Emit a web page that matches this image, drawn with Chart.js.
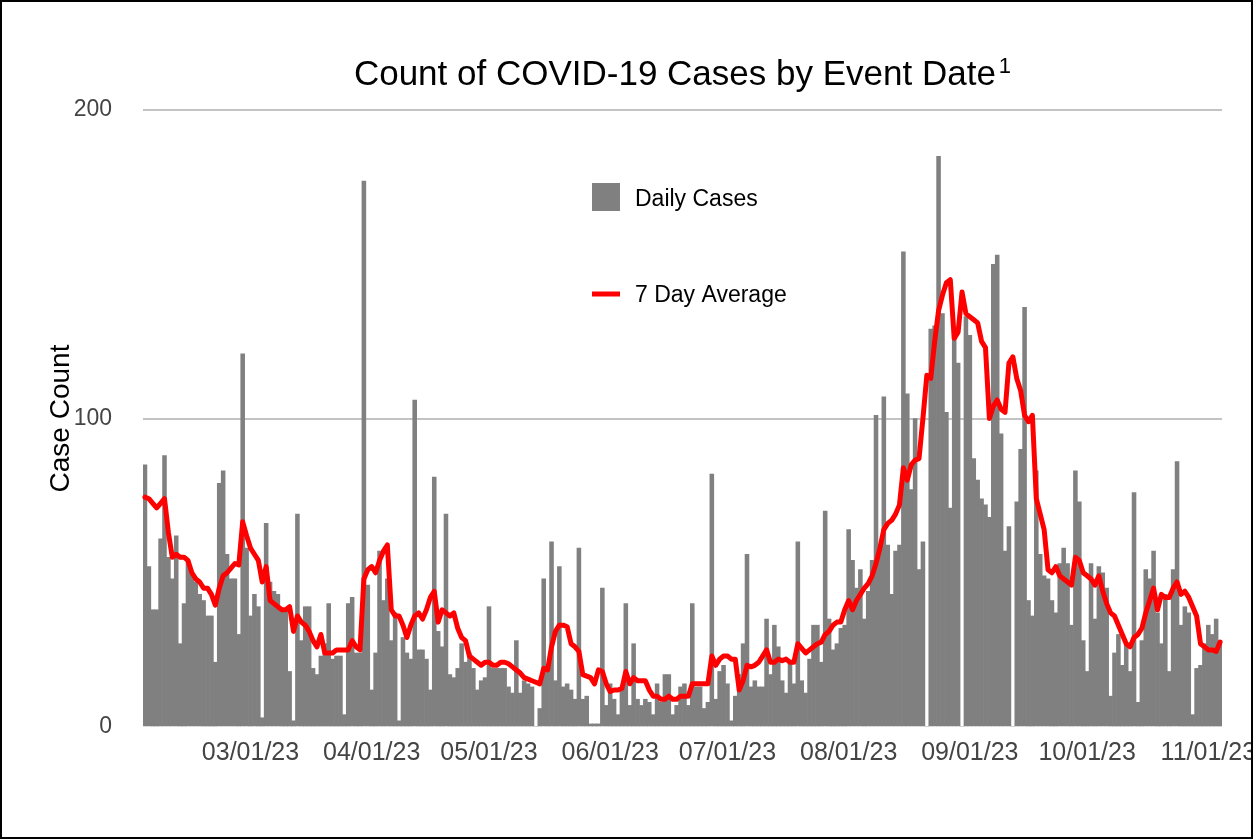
<!DOCTYPE html>
<html>
<head>
<meta charset="utf-8">
<title>Count of COVID-19 Cases by Event Date</title>
<script src="https://cdn.jsdelivr.net/npm/chart.js@4.4.0/dist/chart.umd.min.js"></script>
<style>
  html, body { margin: 0; padding: 0; background: #fff; }
  #wrap { position: relative; width: 1253px; height: 839px; }
  #frame { position: absolute; left: 0; top: 0; width: 1253px; height: 839px;
           box-sizing: border-box; border: 2px solid #000; pointer-events: none; }
</style>
</head>
<body>
<div id="wrap">
  <canvas id="myChart" width="1253" height="839"></canvas>
  <div id="frame"></div>
</div>
<script>
const titleText = 'Count of COVID-19 Cases by Event Date';
const startDate = '2023-02-02';
const tickLabels = ['03/01/23', '04/01/23', '05/01/23', '06/01/23', '07/01/23',
                    '08/01/23', '09/01/23', '10/01/23', '11/01/23'];

// daily counts (02/02/23 .. 11/04/23)
const dailyCases = [
  85, 52, 38, 38, 61, 88, 55, 48, 62, 27, 40, 54, 50, 47, 43, 41, 36, 36, 21, 79,
  83, 56, 48, 48, 30, 121, 58, 36, 43, 39, 3, 66, 47, 44, 43, 38, 38, 18, 2, 69,
  28, 39, 39, 19, 17, 23, 27, 40, 22, 23, 23, 4, 40, 42, 24, 24, 177, 46, 12, 24,
  57, 41, 48, 28, 37, 2, 29, 24, 22, 106, 25, 25, 22, 12, 81, 31, 26, 69, 17, 16,
  19, 27, 21, 24, 19, 12, 15, 16, 39, 19, 19, 19, 19, 13, 11, 28, 11, 15, 14, 13,
  0, 6, 48, 20, 60, 15, 52, 13, 14, 12, 9, 58, 9, 10, 1, 1, 1, 45, 7, 14,
  9, 4, 12, 40, 7, 27, 9, 7, 9, 8, 4, 14, 8, 17, 17, 4, 7, 13, 14, 7,
  40, 13, 13, 6, 8, 82, 9, 18, 20, 14, 2, 10, 17, 27, 56, 13, 15, 13, 13, 35,
  17, 33, 26, 15, 11, 21, 14, 60, 15, 11, 22, 33, 33, 21, 70, 35, 25, 27, 32, 33,
  64, 54, 45, 51, 35, 44, 54, 101, 59, 107, 59, 43, 57, 59, 154, 108, 77, 100, 51, 60,
  0, 129, 130, 185, 134, 102, 71, 126, 118, 0, 133, 127, 87, 80, 74, 72, 68, 150, 153, 95,
  57, 65, 0, 73, 90, 136, 41, 36, 83, 56, 49, 48, 41, 37, 53, 58, 53, 33, 83, 73,
  28, 18, 53, 35, 52, 50, 45, 10, 24, 30, 20, 27, 18, 76, 8, 28, 51, 48, 57, 37,
  27, 43, 18, 51, 86, 33, 39, 37, 4, 19, 20, 27, 33, 30, 35, 28
];

// red line
const sevenDayAvg = [
  74.5, 74, 72.5, 71, 72.5, 74, 63, 55, 56, 55, 55, 54, 50, 48, 47, 45, 45, 43, 39.5, 45,
  49, 50, 51.5, 53, 52.5, 66.5, 62, 58, 56, 54, 47, 52, 41, 40, 39, 38, 38, 39, 31, 36,
  34, 33, 31, 28, 26, 30, 24, 24, 24, 25, 25, 25, 25, 28, 26, 25, 48, 51, 52, 50,
  54, 57, 59, 38, 36, 36, 33, 29, 33, 36, 37, 35, 38, 42, 44, 34, 38, 37, 36, 37,
  32, 29, 28, 23, 22, 21, 20, 21, 21, 20, 20, 21, 21, 20.5, 19.5, 18.5, 17.5, 16, 15.5, 15,
  14.5, 14, 19, 18.5, 26, 31, 33, 33, 32.5, 27, 26, 24.5, 17, 16.5, 16, 14, 18.5, 18, 14, 11.5,
  12, 12, 12.5, 18, 14, 16, 15, 15, 15, 12, 10, 10, 9, 9, 10, 9, 9, 10, 10, 10,
  14, 14, 14, 14, 14, 23, 20, 22, 23, 23, 22, 22, 12, 15, 20, 19.5, 20, 21, 23, 25,
  21, 21, 22, 21.5, 22, 21, 21, 27, 25.5, 24, 25, 26, 27, 27.5, 30, 31, 33, 34, 34, 38,
  41, 38, 41, 43, 45, 46.5, 49, 53, 58, 64, 66, 67, 69, 72, 84, 80, 85, 86.5, 87, 100,
  114, 113, 125, 135, 140, 144, 145, 126, 128, 141, 134, 133, 132, 131, 125, 123, 100, 104, 106, 103,
  102, 118, 120, 113, 109, 101, 99, 101, 74, 69, 64, 51, 50, 52, 49, 48, 47, 46, 55, 54,
  50, 49, 48, 46, 49, 44, 40, 37, 36, 33, 30, 27, 26, 29, 30, 32, 37, 41, 45, 38,
  43, 42, 42, 45, 47, 43, 44, 42, 39, 36, 27, 26, 25, 25, 24.5, 27.5
];

// one category per day, labelled MM/DD/YY
const days = [];
const d0 = new Date(startDate + 'T00:00:00');
for (let i = 0; i < dailyCases.length; i++) {
  const d = new Date(d0);
  d.setDate(d0.getDate() + i);
  days.push(String(d.getMonth() + 1).padStart(2, '0') + '/' +
            String(d.getDate()).padStart(2, '0') + '/23');
}

const FONT = '"Liberation Sans", Arial, sans-serif';

// title with superscript and the legend inside the plot
const decorations = {
  id: 'decorations',
  afterDraw(chart) {
    const ctx = chart.ctx;
    const area = chart.chartArea;
    ctx.save();
    ctx.fillStyle = '#000';
    ctx.textAlign = 'left';
    ctx.textBaseline = 'alphabetic';
    ctx.font = '35px ' + FONT;
    const tw = ctx.measureText(titleText).width;
    ctx.font = '22px ' + FONT;
    const sw = ctx.measureText('1').width;
    const x0 = (area.left + area.right) / 2 - (tw + 3 + sw) / 2;
    ctx.font = '35px ' + FONT;
    ctx.fillText(titleText, x0, 85);
    ctx.font = '22px ' + FONT;
    ctx.fillText('1', x0 + tw + 3, 73);

    const line = chart.data.datasets[0];
    const bars = chart.data.datasets[1];
    ctx.font = '23px ' + FONT;
    ctx.fillStyle = bars.backgroundColor;
    ctx.fillRect(592, 183, 28, 28);
    ctx.fillStyle = '#000';
    ctx.fillText(bars.label, 635, 206);
    ctx.strokeStyle = line.borderColor;
    ctx.lineWidth = 5;
    ctx.beginPath();
    ctx.moveTo(592, 294);
    ctx.lineTo(620, 294);
    ctx.stroke();
    ctx.fillText(line.label, 635, 302);
    ctx.restore();
  }
};

const ctx = document.getElementById('myChart').getContext('2d');
new Chart(ctx, {
  type: 'bar',
  data: {
    labels: days,
    datasets: [{
      type: 'line',
      label: '7 Day Average',
      data: sevenDayAvg,
      borderColor: '#ff0000',
      borderWidth: 5,
      borderJoinStyle: 'round',
      borderCapStyle: 'round',
      pointRadius: 0,
      tension: 0,
      fill: false,
      order: 1
    }, {
      label: 'Daily Cases',
      data: dailyCases,
      backgroundColor: '#808080',
      borderWidth: 0,
      barPercentage: 1.0,
      categoryPercentage: 1.0,
      order: 2
    }]
  },
  options: {
    responsive: false,
    animation: false,
    events: [],
    layout: { padding: { left: 0, right: 31, top: 110, bottom: 0 } },
    plugins: {
      legend: { display: false },
      title: { display: false },
      tooltip: { enabled: false }
    },
    scales: {
      x: {
        grid: { display: false, drawTicks: false },
        border: { display: false },
        ticks: {
          autoSkip: false,
          maxRotation: 0,
          minRotation: 0,
          padding: 11,
          color: '#444',
          font: { family: FONT, size: 25 },
          callback: function (value) {
            const lbl = this.getLabelForValue(value);
            return tickLabels.includes(lbl) ? lbl : '';
          }
        },
        afterFit: (s) => { s.height = 112; }
      },
      y: {
        min: 0,
        max: 200,
        grid: {
          drawTicks: false,
          lineWidth: 2,
          color: (c) => (c.tick && c.tick.value === 0) ? 'rgba(0,0,0,0)' : '#c3c3c3'
        },
        border: { display: false },
        ticks: {
          stepSize: 100,
          padding: 31,
          color: '#444',
          font: { family: FONT, size: 23 }
        },
        title: {
          display: true,
          text: 'Case Count',
          color: '#000',
          font: { family: FONT, size: 28 },
          padding: { top: 44, bottom: 0 }
        },
        afterFit: (s) => { s.width = 143; }
      }
    }
  },
  plugins: [decorations]
});
</script>
</body>
</html>
